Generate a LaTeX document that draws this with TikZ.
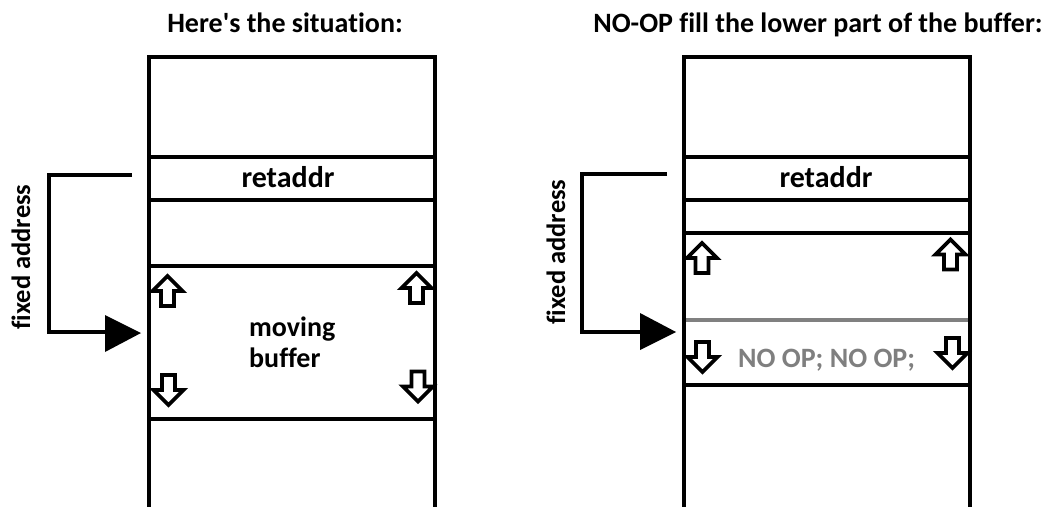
\documentclass[tikz,border=0pt]{standalone}
\usepackage{fontspec}
\setmainfont{Carlito}[Ligatures={NoCommon}]
\usetikzlibrary{calc}
\definecolor{noopgray}{HTML}{7F7F7F}
\definecolor{sepgray}{HTML}{808080}
\tikzset{
  stackline/.style={line width=4pt, line cap=rect},
  bracketline/.style={line width=4pt},
  arrowhead/.style={fill=black, draw=none},
  blockarrow/.style={line width=3.8pt, line join=miter, fill=white},
  txt/.style={font=\bfseries\fontsize{28}{32}\selectfont, inner sep=0pt},
  bigtxt/.style={font=\bfseries\fontsize{30}{34}\selectfont, inner sep=0pt},
  titletxt/.style={font=\bfseries\fontsize{28}{32}\selectfont, inner sep=0pt},
  rottxt/.style={font=\bfseries\fontsize{26.5}{30}\selectfont, inner sep=0pt, rotate=90, text=black},
  uparrowpic/.pic={\draw[blockarrow] (0,-15) -- (15,0) -- (6.5,0) -- (6.5,15) -- (-6.5,15) -- (-6.5,0) -- (-15,0) -- cycle;},
  downarrowpic/.pic={\draw[blockarrow] (0,15) -- (15,0) -- (6.5,0) -- (6.5,-15) -- (-6.5,-15) -- (-6.5,0) -- (-15,0) -- cycle;}
}
\begin{document}
\begin{tikzpicture}[x=1pt,y=-1pt]
\useasboundingbox (0,0) rectangle (1049,506);
\fill[white] (0,0) rectangle (1049,506);

% ---------- Left diagram ----------
\node[titletxt, anchor=base] (t1) at (285,32) {Here\textquotesingle s the situation:};
\draw[stackline] (149,510) -- (149,57) -- (435,57) -- (435,510);
\draw[stackline] (149,157) -- (435,157);
\draw[stackline] (149,200) -- (435,200);
\draw[stackline] (149,266) -- (435,266);
\draw[stackline] (149,419) -- (435,419);
\node[bigtxt, anchor=base] (ra1) at (288,187) {retaddr};
\node[txt, anchor=base west] (mv1) at (249,336) {moving};
\node[txt, anchor=base west] (bf1) at (249,367) {buffer};
\pic at (167.5,291) {uparrowpic};
\pic at (416.5,288) {uparrowpic};
\pic at (168.5,390) {downarrowpic};
\pic at (418,386.5) {downarrowpic};
\coordinate (s1) at (132,175);
\coordinate (c1a) at (49,175);
\coordinate (c1b) at (49,332);
\coordinate (e1) at (106,332);
\draw[bracketline] (s1) -- (c1a) -- (c1b) -- (e1);
\fill[arrowhead] (105,315) -- (141,333) -- (105,352) -- cycle;
\node[rottxt] (fa1) at (21,257) {fixed address};

% ---------- Right diagram ----------
\node[titletxt, anchor=base] (t2) at (818,32) {NO-OP fill the lower part of the buffer:};
\draw[stackline] (684,510) -- (684,57) -- (970,57) -- (970,510);
\draw[stackline] (684,157) -- (970,157);
\draw[stackline] (684,200) -- (970,200);
\draw[stackline] (684,233) -- (970,233);
\draw[line width=4pt, sepgray] (686,320) -- (968,320);
\draw[stackline] (684,385) -- (970,385);
\node[bigtxt, anchor=base] (ra2) at (826,187) {retaddr};
\node[txt, anchor=base west, text=noopgray] (no2) at (738,367) {NO OP; NO OP;};
\pic at (702,258) {uparrowpic};
\pic at (950.5,254.5) {uparrowpic};
\pic at (702.5,357) {downarrowpic};
\pic at (952.5,353) {downarrowpic};
\coordinate (s2) at (667,174);
\coordinate (c2a) at (582,174);
\coordinate (c2b) at (582,332);
\coordinate (e2) at (641,332);
\draw[bracketline] (s2) -- (c2a) -- (c2b) -- (e2);
\fill[arrowhead] (640,313) -- (676,332) -- (640,350) -- cycle;
\node[rottxt] (fa2) at (556,252) {fixed address};
\end{tikzpicture}
\end{document}
